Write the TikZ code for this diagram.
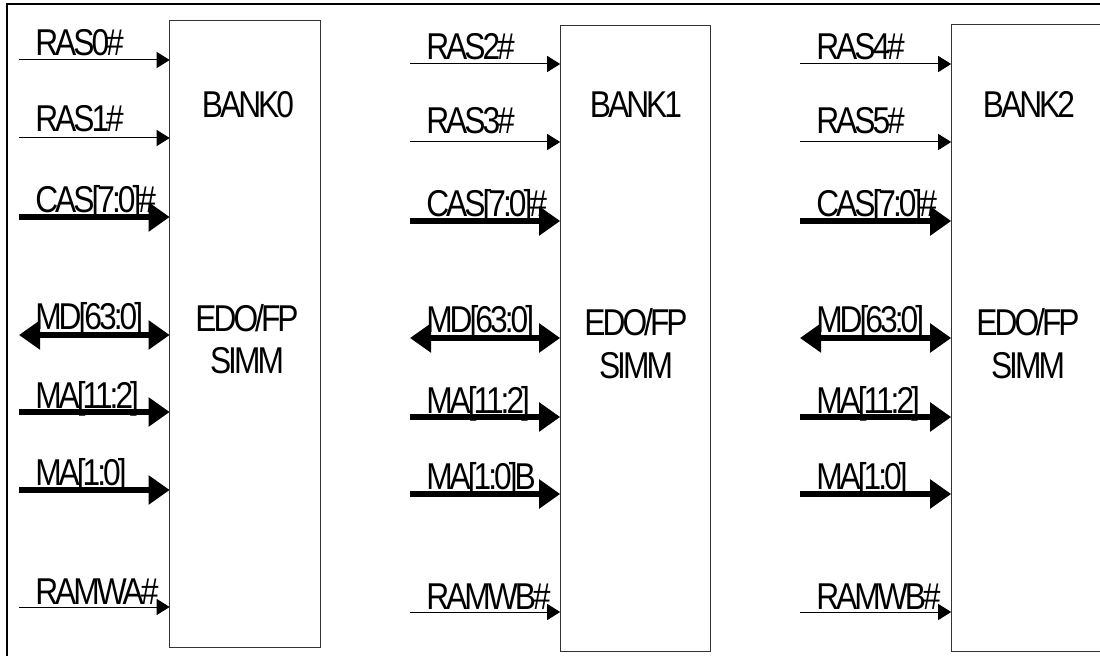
\documentclass[tikz,border=0pt]{standalone}
\usepackage{fontspec}
\setmainfont{Liberation Sans}[FakeStretch=0.85,LetterSpace=-8]
\usetikzlibrary{arrows.meta}
\newcommand\sigrow[7]{%
  \coordinate (#1) at (#2,#3);
  \node[sig] (#1l) at (#2+16,#3-#7) {#6};
  \draw[#4] (#1) -- (#1 -| #5.west);
}
\begin{document}
\begin{tikzpicture}[x=0.75pt,y=-0.75pt,
  bankbox/.style={draw=black!80, line width=0.75pt, inner sep=0pt, outer sep=0pt,
    minimum width=113pt, minimum height=470pt},
  ttl/.style={font=\fontsize{28pt}{32pt}\selectfont, inner sep=0pt, anchor=base},
  sig/.style={font=\fontsize{28pt}{32pt}\selectfont, anchor=base west, inner sep=0pt},
  thinarr/.style={line width=0.75pt, -{Triangle[length=9.75pt,width=12pt]}},
  bus/.style={line width=4.5pt, -{Triangle[length=15.75pt,width=21pt]}},
  bibus/.style={line width=4.5pt, {Triangle[length=15.75pt,width=21pt]}-{Triangle[length=15.75pt,width=21pt]}},
]
\useasboundingbox (0,0) rectangle (1100,656);
\clip (0,0) rectangle (1100,656);
\fill[white] (0,0) rectangle (1100,656);
% outer frame (right and bottom sides fall outside)
\draw[line width=1.5pt] (7,700) -- (7,4) -- (1150,4);

% banks
\node[bankbox] (bank0) at (245,334) {};
\node[bankbox] (bank1) at (635.5,338.5) {};
\node[bankbox] (bank2) at (1026.5,338) {};

\node[ttl] (b0t) at (248,118) {BANK0};
\node[ttl] (b0e) at (247,331) {EDO/FP};
\node[ttl] (b0s) at (247,373) {SIMM};
\node[ttl] (b1t) at (636,118) {BANK1};
\node[ttl] (b1e) at (636,335) {EDO/FP};
\node[ttl] (b1s) at (636,378) {SIMM};
\node[ttl] (b2t) at (1029,118) {BANK2};
\node[ttl] (b2e) at (1028,335) {EDO/FP};
\node[ttl] (b2s) at (1028,378) {SIMM};

% bank 0 signals
\sigrow{a1}{19}{60}{thinarr}{bank0}{RAS0\#}{4}
\sigrow{a2}{19}{138}{thinarr}{bank0}{RAS1\#}{6}
\sigrow{a3}{19}{217}{bus}{bank0}{CAS[7:0]\#}{4}
\sigrow{a4}{19}{335}{bibus}{bank0}{MD[63:0]}{6}
\sigrow{a5}{19}{412}{bus}{bank0}{MA[11:2]}{4}
\sigrow{a6}{19}{490}{bus}{bank0}{MA[1:0]}{5}
\sigrow{a7}{19}{607}{thinarr}{bank0}{RAMWA\#}{3}

% bank 1 signals
\sigrow{b1}{410}{64}{thinarr}{bank1}{RAS2\#}{4}
\sigrow{b2}{410}{142}{thinarr}{bank1}{RAS3\#}{8}
\sigrow{b3}{410}{221}{bus}{bank1}{CAS[7:0]\#}{4}
\sigrow{b4}{410}{338}{bibus}{bank1}{MD[63:0]}{6}
\sigrow{b5}{410}{417}{bus}{bank1}{MA[11:2]}{4}
\sigrow{b6}{410}{494}{bus}{bank1}{MA[1:0]B}{5}
\sigrow{b7}{410}{612}{thinarr}{bank1}{RAMWB\#}{3}

% bank 2 signals
\sigrow{c1}{800}{64}{thinarr}{bank2}{RAS4\#}{4}
\sigrow{c2}{800}{142}{thinarr}{bank2}{RAS5\#}{8}
\sigrow{c3}{800}{221}{bus}{bank2}{CAS[7:0]\#}{4}
\sigrow{c4}{800}{338}{bibus}{bank2}{MD[63:0]}{6}
\sigrow{c5}{800}{417}{bus}{bank2}{MA[11:2]}{4}
\sigrow{c6}{800}{494}{bus}{bank2}{MA[1:0]}{5}
\sigrow{c7}{800}{612}{thinarr}{bank2}{RAMWB\#}{3}
\end{tikzpicture}
\end{document}
